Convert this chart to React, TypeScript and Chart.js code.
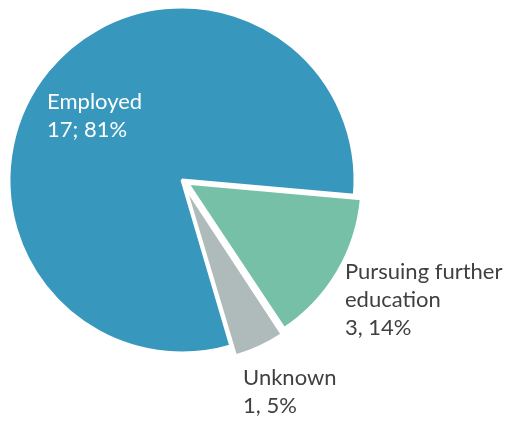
import React, { useEffect, useRef } from "react";
import { Chart, registerables } from "chart.js";

Chart.register(...registerables);

const categories = ["Employed", "Pursuing further education", "Unknown"];
const counts = [17, 3, 1];
const percents = [81, 14, 5];
const labelLines = [
  ["Employed", "17; 81%"],
  ["Pursuing further", "education", "3, 14%"],
  ["Unknown", "1, 5%"],
];
const colors = ["#3897BC", "#76C0A8", "#AFBBBA"];
const offsets = [0, 26, 26];
const labelColors = ["#FFFFFF", "#404040", "#404040"];
// label anchor (left, middle of first line) relative to center, in units of radius
const labelAnchors = [
  [-0.78, -0.451],
  [0.942, 0.532],
  [0.353, 1.145],
];

const labelPlugin = {
  id: "sliceLabels",
  afterDatasetsDraw(chart: any) {
    const meta = chart.getDatasetMeta(0);
    const ctx = chart.ctx;
    ctx.save();
    ctx.font = "22px Lato, 'Open Sans', sans-serif";
    ctx.textAlign = "left";
    ctx.textBaseline = "middle";
    meta.data.forEach((arc: any, i: number) => {
      const { x, y, outerRadius } = arc.getProps(["x", "y", "outerRadius"], true);
      const lx = x + outerRadius * labelAnchors[i][0];
      const ly = y + outerRadius * labelAnchors[i][1];
      ctx.fillStyle = labelColors[i];
      labelLines[i].forEach((line, j) => {
        ctx.fillText(line, lx, ly + j * 28);
      });
    });
    ctx.restore();
  },
};

export default function App() {
  const ref = useRef<HTMLCanvasElement>(null);
  useEffect(() => {
    const chart = new Chart(ref.current!, {
      type: "pie",
      data: {
        labels: categories,
        datasets: [
          {
            data: counts,
            backgroundColor: colors,
            borderColor: "#FFFFFF",
            borderWidth: 3,
            offset: offsets,
          },
        ],
      },
      options: {
        animation: false,
        responsive: true,
        maintainAspectRatio: false,
        rotation: 163.6,
        radius: 173,
        layout: { padding: { left: 0, right: 146, top: 0, bottom: 61 } },
        plugins: {
          legend: { display: false },
          tooltip: { enabled: false },
        },
      } as any,
      plugins: [labelPlugin],
    });
    return () => chart.destroy();
  }, []);
  return (
    <div style={{ position: "absolute", left: 0, top: 0, width: 510, height: 421 }}>
      <canvas ref={ref} />
    </div>
  );
}
